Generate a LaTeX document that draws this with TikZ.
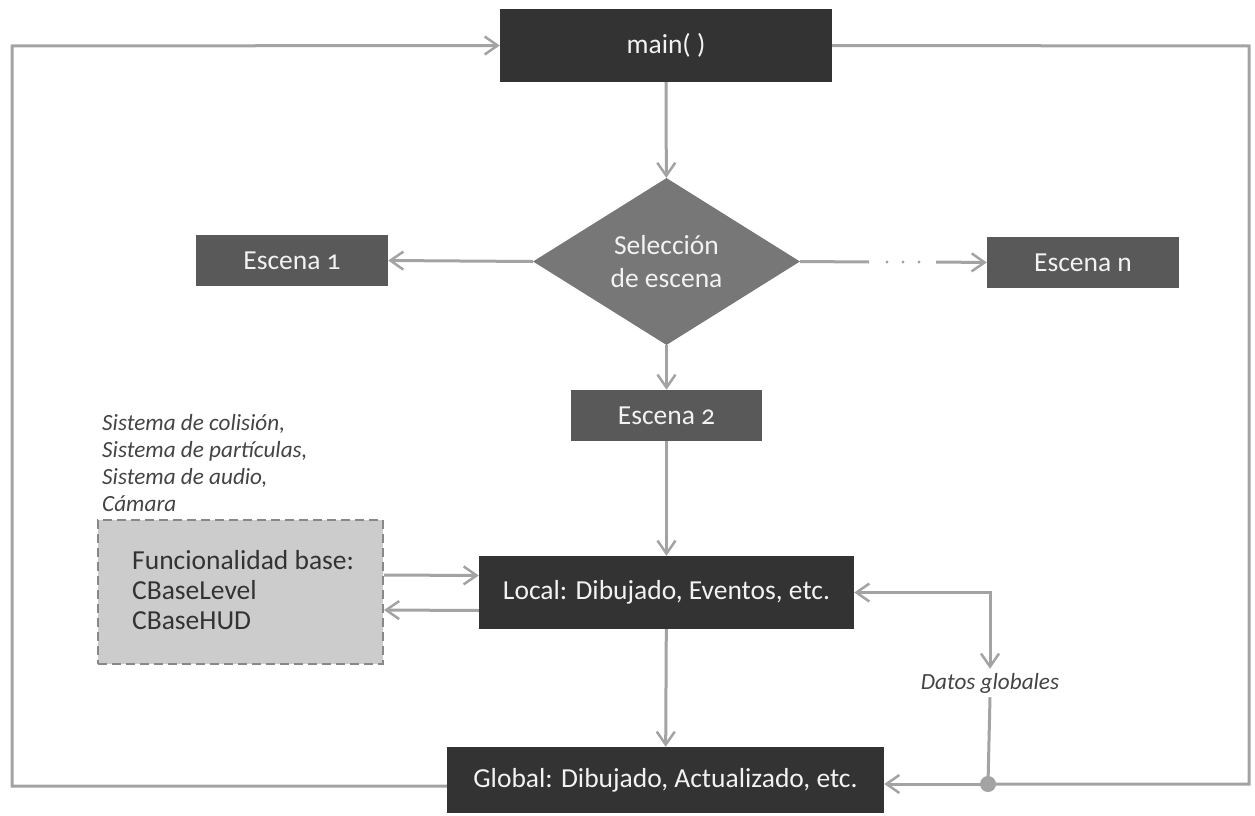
\documentclass[tikz,border=0pt]{standalone}
\usepackage{fontspec}
\setmainfont{Carlito}[Numbers=OldStyle]
\usetikzlibrary{arrows.meta,shapes.geometric}
\definecolor{cdark}{HTML}{333333}
\definecolor{cmid}{HTML}{595959}
\definecolor{cdia}{HTML}{777777}
\definecolor{cline}{HTML}{A3A3A3}
\definecolor{cfunc}{HTML}{CCCCCC}
\definecolor{cborder}{HTML}{888888}
\definecolor{ctxt}{HTML}{F2F2F2}
\definecolor{cgray}{HTML}{444444}
\begin{document}
\begin{tikzpicture}[x=1pt,y=-1pt,
  box/.style={draw=none,text=ctxt,inner sep=0pt,font=\fontsize{27.5}{30}\selectfont},
  darkbox/.style={box,fill=cdark},
  midbox/.style={box,fill=cmid},
  conn/.style={draw=cline,line width=3pt},
  arr/.style={conn,-{Straight Barb[length=13pt,width=18pt,line width=2.5pt]}},
  darr/.style={conn,{Straight Barb[length=13pt,width=18pt,line width=2.5pt]}-{Straight Barb[length=13pt,width=18pt,line width=2.5pt]}},
  note/.style={inner sep=0pt,text=cgray,font=\fontsize{23.2}{27}\selectfont\itshape,align=left}
]
\useasboundingbox (0,0) rectangle (1255,816);
\node[darkbox,minimum width=332pt,minimum height=73pt] (main) at (666,45.5) {main( )};
\node[diamond,fill=cdia,text=ctxt,inner sep=0pt,minimum width=267pt,minimum height=167pt,align=center,font=\fontsize{27.5}{33}\selectfont] (sel) at (666.5,261.5) {Selección\\de escena};
\node[midbox,minimum width=192pt,minimum height=51pt] (esc1) at (292,260.5) {Escena 1};
\node[midbox,minimum width=192pt,minimum height=51pt] (escn) at (1083,262.5) {Escena n};
\node[midbox,minimum width=191pt,minimum height=51pt] (esc2) at (666.5,415.5) {Escena 2};
\node[darkbox,minimum width=375pt,minimum height=73pt] (local) at (666.5,592.5) {Local: Dibujado, Eventos, etc.};
\node[darkbox,minimum width=437pt,minimum height=66pt] (global) at (665.5,780) {Global: Dibujado, Actualizado, etc.};
\node[draw=cborder,dash pattern=on 9pt off 5pt,line width=2pt,fill=cfunc,minimum width=285pt,minimum height=144pt,inner sep=0pt] (func) at (240.5,592) {};
\node[anchor=west,inner sep=0pt,text=cdark,align=left,font=\fontsize{27.5}{30}\selectfont] (functxt) at (132,590) {Funcionalidad base:\\CBaseLevel\\CBaseHUD};
\node[note,anchor=west] (sist) at (102,463) {Sistema de colisión,\\Sistema de partículas,\\Sistema de audio,\\Cámara};
\node[note,inner sep=4pt] (dg) at (990,683) {Datos globales};
\coordinate (tl) at (12,46);
\coordinate (bl) at (12,786);
\coordinate (tr) at (1249,46);
\coordinate (br) at (1249,784);
\coordinate (dot) at (988,784);
\coordinate (d1) at (869,262);
\coordinate (d2) at (936,262);
% connectors
\draw[arr] (main) -- (sel);
\draw[arr] (sel) -- (esc2);
\draw[arr] (esc2) -- (local);
\draw[arr] (local) -- (global);
\draw[arr] (sel.west) -- (esc1.east);
\draw[conn] (sel.east) -- (d1);
\foreach \xx in {887,903,919} \fill[cline] (\xx,262) circle (1.6pt);
\draw[arr] (d2) -- (escn.west);
\draw[arr] ([yshift=17pt]func.east) -- ([yshift=17pt]local.west);
\draw[arr] ([yshift=-18pt]local.west) -- ([yshift=-18pt]func.east);
\draw[darr] (local.east) -| (dg.north);
\draw[conn] (dg.south) -- (dot);
\draw[arr] ([yshift=-6pt]global.west) -- (bl) -- (tl) -- (main.west);
\draw[conn] (main.east) -- (tr) -- (br) -- (dot);
\draw[arr] (dot) -- (global.east |- dot);
\fill[cline] (dot) circle (8pt);
\end{tikzpicture}
\end{document}
